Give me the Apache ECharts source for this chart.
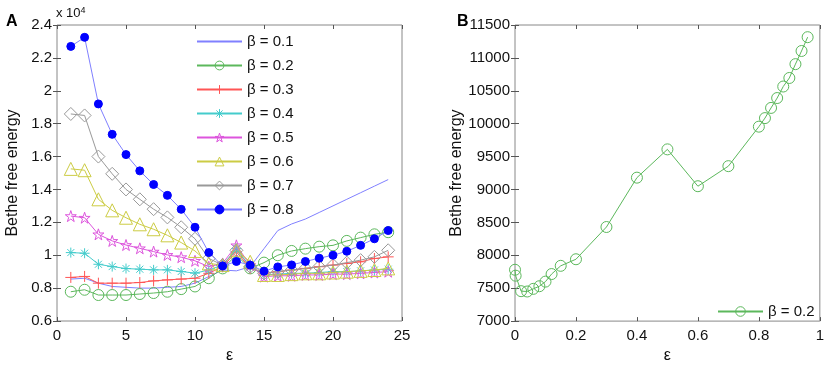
<!DOCTYPE html>
<html>
<head>
<meta charset="utf-8">
<script src="https://cdn.jsdelivr.net/npm/echarts@6/dist/echarts.min.js"></script>
<style>
  html, body { margin: 0; padding: 0; background: #fff; }
  #chart { width: 827px; height: 369px; }
</style>
</head>
<body>
<div id="chart"></div>
<script>
// panel A: Bethe free energy (x 10^4) vs ε, one series per β
const epsA = [1, 2, 3, 4, 5, 6, 7, 8, 9, 10, 11, 12, 13, 14, 15, 16, 17, 18, 19, 20, 21, 22, 23, 24]
const b01 = [0.855, 0.86, 0.83, 0.81, 0.805, 0.80, 0.80, 0.805, 0.81, 0.83, 0.87, 0.91, 0.905, 0.93, 1.04, 1.15, 1.19, 1.22, 1.26, 1.30, 1.34, 1.38, 1.42, 1.46]
const b02 = [0.778, 0.79, 0.758, 0.758, 0.758, 0.764, 0.77, 0.778, 0.794, 0.81, 0.86, 0.92, 1.0, 0.92, 0.955, 1.0, 1.026, 1.04, 1.052, 1.06, 1.087, 1.107, 1.127, 1.14]
const b03 = [0.865, 0.871, 0.83, 0.83, 0.83, 0.834, 0.844, 0.85, 0.855, 0.86, 0.89, 0.93, 1.02, 0.92, 0.89, 0.90, 0.91, 0.92, 0.93, 0.94, 0.95, 0.96, 0.98, 0.99]
const b04 = [1.016, 1.012, 0.945, 0.931, 0.919, 0.915, 0.911, 0.911, 0.901, 0.891, 0.91, 0.94, 1.04, 0.93, 0.88, 0.885, 0.89, 0.89, 0.895, 0.90, 0.90, 0.905, 0.91, 0.915]
const b05 = [1.238, 1.228, 1.127, 1.087, 1.062, 1.042, 1.022, 1.002, 0.988, 0.966, 0.93, 0.95, 1.06, 0.94, 0.87, 0.875, 0.875, 0.88, 0.88, 0.885, 0.885, 0.89, 0.895, 0.90]
const b06 = [1.525, 1.517, 1.34, 1.273, 1.228, 1.188, 1.158, 1.121, 1.077, 1.026, 0.95, 0.94, 1.03, 0.96, 0.88, 0.88, 0.885, 0.89, 0.89, 0.895, 0.90, 0.905, 0.91, 0.92]
const b07 = [1.859, 1.85, 1.60, 1.495, 1.40, 1.34, 1.28, 1.23, 1.17, 1.10, 0.98, 0.94, 1.03, 0.93, 0.89, 0.90, 0.91, 0.92, 0.93, 0.94, 0.955, 0.97, 0.99, 1.03]
const b08 = [2.27, 2.325, 1.92, 1.735, 1.612, 1.513, 1.43, 1.364, 1.279, 1.17, 1.016, 0.935, 0.962, 0.94, 0.903, 0.929, 0.941, 0.962, 0.982, 1.0, 1.024, 1.06, 1.10, 1.15]
const betaNames = ['β = 0.1', 'β = 0.2', 'β = 0.3', 'β = 0.4', 'β = 0.5', 'β = 0.6', 'β = 0.7', 'β = 0.8']

// panel B: β = 0.2, ε in [0, 1]
const epsB = [0, 0.002, 0.02, 0.04, 0.06, 0.08, 0.1, 0.12, 0.15, 0.2, 0.3, 0.4, 0.5, 0.6, 0.7, 0.8, 0.82, 0.84, 0.86, 0.88, 0.9, 0.92, 0.94, 0.96]
const energyB = [7780, 7690, 7455, 7450, 7490, 7530, 7600, 7715, 7840, 7940, 8430, 9180, 9610, 9050, 9355, 9955, 10085, 10240, 10390, 10565, 10695, 10905, 11105, 11315]

const FONT = 'Liberation Sans, Arial, sans-serif'

// marker paths (stroked only)
const PLUS = 'path://M5,0L5,10M0,5L10,5'
const ASTER = 'path://M5,0L5,10M0,5L10,5M1.5,1.5L8.5,8.5M8.5,1.5L1.5,8.5'
const STAR = 'path://M5,0L6.2,3.6L10,3.6L6.9,5.9L8.1,9.5L5,7.3L1.9,9.5L3.1,5.9L0,3.6L3.8,3.6Z'

const styleA = [
  { data: b01, color: '#8080ff', symbol: 'none', size: 0 },
  { data: b02, color: '#5cb85c', symbol: 'circle', size: 11 },
  { data: b03, color: '#ff5555', symbol: PLUS, size: 11 },
  { data: b04, color: '#44cccc', symbol: ASTER, size: 10 },
  { data: b05, color: '#dd55dd', symbol: STAR, size: 11 },
  { data: b06, color: '#cccc44', symbol: 'triangle', size: 13 },
  { data: b07, color: '#999999', symbol: 'diamond', size: 13 },
  { data: b08, color: '#8080ff', symbol: 'circle', size: 8, fill: '#0000ff' }
]

function axisPair(gridIndex, min, max, interval, isX) {
  const tick = { show: true, inside: true, length: 4, lineStyle: { color: '#555' } }
  const main = {
    gridIndex, type: 'value', min, max, interval,
    axisLine: { show: false },
    axisTick: tick,
    splitLine: { show: false },
    axisLabel: { color: '#111', fontSize: 15, fontFamily: FONT, margin: isX ? 7 : 5, formatter: v => String(v) }
  }
  const mirror = {
    gridIndex, type: 'value', min, max, interval,
    position: isX ? 'top' : 'right',
    axisLine: { show: false },
    axisTick: tick,
    splitLine: { show: false },
    axisLabel: { show: false }
  }
  return [main, mirror]
}

const xA = axisPair(0, 0, 25, 5, true)
const yA = axisPair(0, 0.6, 2.4, 0.2, false)
const xB = axisPair(1, 0, 1, 0.2, true)
const yB = axisPair(1, 7000, 11500, 500, false)
// tick labels like MATLAB: 0.6, 0.8, 1, 1.2 ...
yA[0].axisLabel.formatter = v => String(Math.round(v * 10) / 10)
xB[0].axisLabel.formatter = v => String(Math.round(v * 10) / 10)

const nameStyle = { fontSize: 16, fontFamily: FONT, color: '#111' }
Object.assign(xA[0], { name: 'ε', nameLocation: 'middle', nameGap: 24, nameTextStyle: nameStyle })
Object.assign(xB[0], { name: 'ε', nameLocation: 'middle', nameGap: 24, nameTextStyle: nameStyle })
Object.assign(yA[0], { name: 'Bethe free energy', nameLocation: 'middle', nameGap: 36, nameTextStyle: nameStyle })
Object.assign(yB[0], { name: 'Bethe free energy', nameLocation: 'middle', nameGap: 50, nameTextStyle: nameStyle })

const seriesA = styleA.map((s, i) => ({
  name: betaNames[i],
  type: 'line',
  xAxisIndex: 0,
  yAxisIndex: 0,
  data: epsA.map((e, k) => [e, s.data[k]]),
  symbol: s.symbol,
  symbolSize: s.size,
  showSymbol: s.symbol !== 'none',
  lineStyle: { color: s.color, width: 1 },
  itemStyle: { color: s.fill || 'transparent', borderColor: s.fill || s.color, borderWidth: 1 },
  emphasis: { disabled: true },
  z: 2 + i
}))

const seriesB = {
  name: 'β = 0.2 ',
  type: 'line',
  xAxisIndex: 2,
  yAxisIndex: 2,
  data: epsB.map((e, k) => [e, energyB[k]]),
  symbol: 'circle',
  symbolSize: 11,
  lineStyle: { color: '#5cb85c', width: 1 },
  itemStyle: { color: 'transparent', borderColor: '#5cb85c', borderWidth: 1 },
  emphasis: { disabled: true }
}

// legend entries: hollow markers, plain line for β = 0.1
const legendA = betaNames.map((n, i) => {
  const s = styleA[i]
  if (i === 0) return { name: n, itemStyle: { color: 'transparent', borderColor: 'transparent', borderWidth: 0 } }
  return { name: n, itemStyle: { color: s.fill || 'transparent', borderColor: s.fill || s.color, borderWidth: 1 } }
})

const chart = echarts.init(document.getElementById('chart'), null, { renderer: 'canvas' })
chart.setOption({
  animation: false,
  backgroundColor: '#fff',
  grid: [
    { left: 57, top: 25, width: 345, height: 296, show: true, borderColor: '#888', borderWidth: 1, backgroundColor: '#fff' },
    { left: 515, top: 25, width: 308, height: 303, show: true, borderColor: '#888', borderWidth: 1, backgroundColor: '#fff' }
  ],
  xAxis: [...xA, ...xB],
  yAxis: [...yA, ...yB],
  legend: [
    {
      data: legendA,
      orient: 'vertical',
      left: 194,
      top: 31,
      padding: [3, 8, 3, 2],
      backgroundColor: '#fff',
      itemWidth: 45,
      itemHeight: 11,
      itemGap: 9,
      textStyle: { fontSize: 15, fontFamily: FONT, color: '#111' },
      selectedMode: false
    },
    {
      data: [{ name: 'β = 0.2 ', itemStyle: { color: 'transparent', borderColor: '#5cb85c', borderWidth: 1 } }],
      left: 712,
      top: 299,
      itemWidth: 45,
      itemHeight: 12,
      textStyle: { fontSize: 15, fontFamily: FONT, color: '#111' },
      selectedMode: false
    }
  ],
  graphic: [
    { type: 'text', left: 6, top: 14, style: { text: 'A', font: 'bold 16px ' + FONT, fill: '#000' } },
    { type: 'text', left: 457, top: 14, style: { text: 'B', font: 'bold 16px ' + FONT, fill: '#000' } },
    {
      type: 'text', left: 56, top: 6,
      style: {
        text: 'x 10{s|4}',
        font: '13px ' + FONT,
        fill: '#111',
        rich: { s: { fontSize: 9, fontFamily: FONT, verticalAlign: 'top', padding: [0, 0, 6, 0] } }
      }
    }
  ],
  series: [...seriesA, seriesB]
})
</script>
</body>
</html>
